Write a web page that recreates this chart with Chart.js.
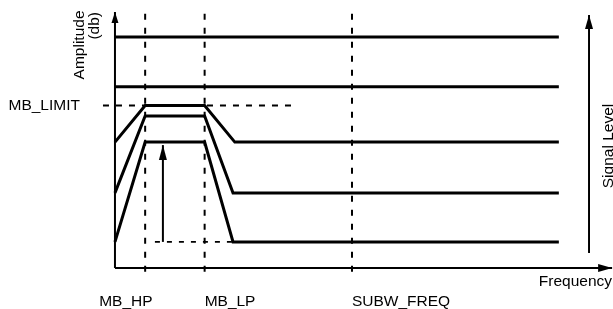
<!DOCTYPE html>
<html lang="en">
<head>
    <meta charset="UTF-8">
    <title>Multiband limiter levels</title>
    <script src="https://cdn.jsdelivr.net/npm/chart.js"></script>
    <style>
        body {
            margin: 0;
            background: #ffffff;
        }
        canvas {
            display: block;
        }
    </style>
</head>
<body>

    <canvas id="chart" width="613" height="309"></canvas>

    <script>
        // frequency runs 0..100 (end of the level lines), amplitude 0..100 (top level)
        const markerNames = ['MB_HP', 'MB_LP', 'SUBW_FREQ'];
        const markerFreqs = [6.8, 20.2, 53.4];
        const mbLimit = 70.3;

        const levelFreqs = [0, 100];
        const highLevels = [100, 78.4];

        const kneeFreqsA = [0, 6.8, 20.2, 27.0, 100];
        const curveA = [54.5, 70.3, 70.3, 54.5, 54.5];
        const kneeFreqsB = [0, 6.8, 20.2, 26.6, 100];
        const curveB = [32.5, 65.8, 65.8, 32.5, 32.5];
        const curveC = [11.3, 54.5, 54.5, 11.3, 11.3];

        const axisTopAmp = 110.8;
        const axisEndFreq = 112.0;
        const dashTopAmp = 110;
        const dashBottomAmp = -4.3;
        const limitDashFreqs = [-2.7, 40.8];
        const boostFreq = 10.8;
        const boostAmps = [11.3, 53.2];
        const boostBaseFreqs = [9.0, 26.6];
        const signalFreq = 106.8;
        const signalAmps = [6.5, 109.5];

        const FONT = '15.5px "Liberation Sans", Arial, sans-serif';

        function pts(xs, ys) {
            return xs.map((x, i) => ({ x: x, y: ys[i] }));
        }

        function line(data, extra) {
            return Object.assign({
                data: data,
                showLine: true,
                borderColor: '#000',
                borderWidth: 3,
                pointRadius: 0,
                fill: false,
                borderJoinStyle: 'miter',
                borderCapStyle: 'butt'
            }, extra || {});
        }

        const datasets = [];
        highLevels.forEach(v => datasets.push(line(pts(levelFreqs, [v, v]))));
        datasets.push(line(pts(kneeFreqsA, curveA)));
        datasets.push(line(pts(kneeFreqsB, curveB)));
        datasets.push(line(pts(kneeFreqsB, curveC)));

        markerFreqs.forEach(f => datasets.push(line(pts([f, f], [dashTopAmp, dashBottomAmp]),
            { borderWidth: 2, borderDash: [6, 8] })));
        datasets.push(line(pts(limitDashFreqs, [mbLimit, mbLimit]), { borderWidth: 2, borderDash: [6, 7] }));
        datasets.push(line(pts(boostBaseFreqs, [boostAmps[0], boostAmps[0]]), { borderWidth: 1.8, borderDash: [5, 7] }));
        datasets.push(line(pts([boostFreq, boostFreq], boostAmps), { borderWidth: 2, arrow: { len: 15, w: 8 } }));

        // axes
        datasets.push(line(pts([0, 0], [0, axisTopAmp]), { borderWidth: 2, arrow: { len: 11, w: 7 } }));
        datasets.push(line(pts([0, axisEndFreq], [0, 0]), { borderWidth: 2, arrow: { len: 14, w: 8 } }));
        datasets.push(line(pts([signalFreq, signalFreq], signalAmps), { borderWidth: 2, arrow: { len: 14, w: 8 } }));

        const arrowHeads = {
            id: 'arrowHeads',
            afterDatasetsDraw(chart) {
                const ctx = chart.ctx;
                chart.data.datasets.forEach((ds, i) => {
                    if (!ds.arrow) return;
                    const el = chart.getDatasetMeta(i).data;
                    const a = el[el.length - 2], b = el[el.length - 1];
                    const ang = Math.atan2(b.y - a.y, b.x - a.x);
                    ctx.save();
                    ctx.translate(b.x, b.y);
                    ctx.rotate(ang);
                    ctx.beginPath();
                    ctx.moveTo(0, 0);
                    ctx.lineTo(-ds.arrow.len, -ds.arrow.w / 2);
                    ctx.lineTo(-ds.arrow.len, ds.arrow.w / 2);
                    ctx.closePath();
                    ctx.fillStyle = '#000';
                    ctx.fill();
                    ctx.restore();
                });
            }
        };

        const labels = {
            id: 'labels',
            afterDraw(chart) {
                const ctx = chart.ctx;
                const xs = chart.scales.x, ys = chart.scales.y;
                const x0 = xs.getPixelForValue(0), y0 = ys.getPixelForValue(0);
                ctx.save();
                ctx.fillStyle = '#000';
                ctx.font = FONT;

                // MB_LIMIT beside the y axis
                ctx.textAlign = 'right';
                ctx.textBaseline = 'middle';
                ctx.fillText('MB_LIMIT', x0 - 35, ys.getPixelForValue(mbLimit));

                // frequency markers under the axis
                ctx.textBaseline = 'alphabetic';
                const offs = [-46, 0, 0];
                markerNames.forEach((name, i) => {
                    ctx.textAlign = 'left';
                    ctx.fillText(name, xs.getPixelForValue(markerFreqs[i]) + offs[i], y0 + 38.5);
                });
                ctx.textAlign = 'right';
                ctx.fillText('Frequency', chart.chartArea.right - 1, y0 + 18);

                // rotated titles
                const rot = (text, x, y, align) => {
                    ctx.save();
                    ctx.translate(x, y);
                    ctx.rotate(-Math.PI / 2);
                    ctx.textAlign = align;
                    ctx.fillText(text, 0, 0);
                    ctx.restore();
                };
                rot('Amplitude', x0 - 31, 10.5, 'right');
                rot('(db)', x0 - 16, 12, 'right');
                rot('Signal Level', xs.getPixelForValue(signalFreq) + 24, 146, 'center');
                ctx.restore();
            }
        };

        new Chart(document.getElementById('chart'), {
            type: 'scatter',
            data: { datasets: datasets },
            options: {
                responsive: false,
                animation: false,
                events: [],
                layout: { padding: 0 },
                plugins: { legend: { display: false }, tooltip: { enabled: false } },
                scales: {
                    x: { type: 'linear', min: -25.9, max: 112.2, display: false },
                    y: { type: 'linear', min: -17.75, max: 116, display: false }
                }
            },
            plugins: [arrowHeads, labels]
        });
    </script>

</body>
</html>
